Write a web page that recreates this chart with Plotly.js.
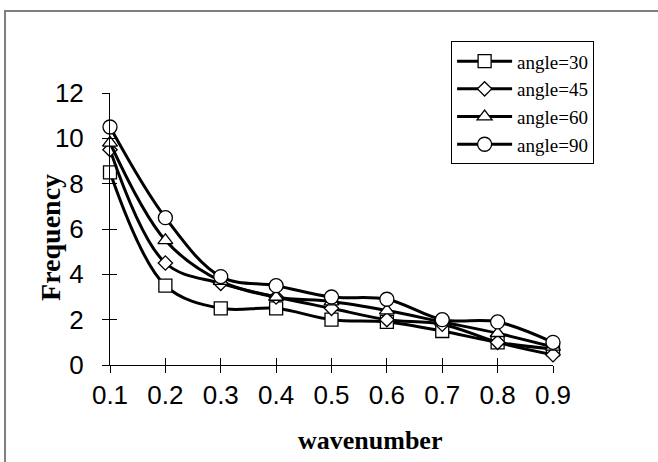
<!DOCTYPE html>
<html>
<head>
<meta charset="utf-8">
<script src="https://cdn.plot.ly/plotly-3.0.1.min.js"></script>
<style>
  html, body { margin: 0; padding: 0; background: #fff; overflow: hidden; }
  #chart { position: absolute; left: 0; top: 0; width: 658px; height: 462px; }
  #frame {
    position: absolute; left: 4px; top: 10px; width: 700px; height: 500px;
    border-left: 2px solid #7f7f7f; border-top: 2px solid #7f7f7f;
    pointer-events: none; z-index: 5;
  }
</style>
</head>
<body>
<div id="chart"></div>
<div id="frame"></div>
<script>
// wavenumber samples shared by every series
const wavenumber = [0.1, 0.2, 0.3, 0.4, 0.5, 0.6, 0.7, 0.8, 0.9];

// frequency for each incidence angle
const angle30 = [8.5, 3.5, 2.5, 2.5, 2.0, 1.9, 1.5, 1.0, 0.7];
const angle45 = [9.5, 4.5, 3.6, 3.0, 2.5, 2.0, 1.8, 1.0, 0.45];
const angle60 = [9.8, 5.5, 3.7, 3.0, 2.8, 2.4, 1.9, 1.4, 0.8];
const angle90 = [10.5, 6.5, 3.9, 3.5, 3.0, 2.9, 2.0, 1.9, 1.0];

const seriesNames = ['angle=30', 'angle=45', 'angle=60', 'angle=90'];
const seriesValues = [angle30, angle45, angle60, angle90];
const seriesSymbols = ['square', 'diamond', 'triangle-up', 'circle'];
const symbolSizes = [13, 11, 13, 14];

const xTicks = [0.1, 0.2, 0.3, 0.4, 0.5, 0.6, 0.7, 0.8, 0.9];
const xTickText = ['0.1', '0.2', '0.3', '0.4', '0.5', '0.6', '0.7', '0.8', '0.9'];
const yTicks = [0, 2, 4, 6, 8, 10, 12];

const traces = seriesNames.map((name, i) => ({
  type: 'scatter',
  mode: 'lines+markers',
  name: name,
  x: wavenumber,
  y: seriesValues[i],
  cliponaxis: false,
  line: { color: '#000', width: 3, shape: 'spline', smoothing: 1 },
  marker: {
    symbol: seriesSymbols[i],
    size: symbolSizes[i],
    color: '#fff',
    line: { color: '#000', width: 1.3 }
  }
}));

// companion axes carry the inner half of the crossing tick marks
traces.push({
  type: 'scatter', mode: 'markers', x: [null], y: [null],
  xaxis: 'x2', yaxis: 'y2', showlegend: false, hoverinfo: 'skip'
});

const serif = 'Liberation Serif, Times New Roman, serif';
const sans = 'Liberation Sans, Arial, sans-serif';

const axisBase = {
  showgrid: false, zeroline: false,
  showline: true, linecolor: '#000', linewidth: 1,
  ticks: 'outside', ticklen: 7, tickwidth: 1, tickcolor: '#000',
  tickfont: { family: sans, size: 26, color: '#000' }
};

const layout = {
  width: 658, height: 462,
  margin: { l: 110, r: 105, t: 93, b: 97 },
  paper_bgcolor: '#fff', plot_bgcolor: '#fff',
  showlegend: true,
  xaxis: Object.assign({}, axisBase, {
    range: [0.1, 0.9], tickvals: xTicks, ticktext: xTickText,
    ticklabelstandoff: 0
  }),
  yaxis: Object.assign({}, axisBase, {
    range: [0, 12], tickvals: yTicks,
    ticklabelstandoff: 13
  }),
  xaxis2: {
    overlaying: 'x', anchor: 'y', side: 'bottom', range: [0.1, 0.9],
    tickvals: xTicks, showticklabels: false, showgrid: false, zeroline: false,
    showline: false, ticks: 'inside', ticklen: 7, tickwidth: 1, tickcolor: '#000'
  },
  yaxis2: {
    overlaying: 'y', anchor: 'x', side: 'left', range: [0, 12],
    tickvals: yTicks, showticklabels: false, showgrid: false, zeroline: false,
    showline: false, ticks: 'inside', ticklen: 7, tickwidth: 1, tickcolor: '#000'
  },
  legend: {
    x: 0.77, y: 1.19, xanchor: 'left', yanchor: 'top',
    bgcolor: '#fff', bordercolor: '#000', borderwidth: 1,
    font: { family: serif, size: 19, color: '#000' },
    itemwidth: 55,
    tracegroupgap: 0
  },
  annotations: [
    {
      text: '<b>wavenumber</b>', xref: 'paper', yref: 'paper',
      x: 0.587, y: -0.276, xanchor: 'center', yanchor: 'middle', showarrow: false,
      font: { family: serif, size: 26, color: '#000' }
    },
    {
      text: '<b>Frequency</b>', xref: 'paper', yref: 'paper',
      x: -0.136, y: 0.47, xanchor: 'center', yanchor: 'middle', showarrow: false,
      textangle: -90,
      font: { family: serif, size: 28, color: '#000' }
    }
  ]
};

Plotly.newPlot('chart', traces, layout, { displayModeBar: false, staticPlot: true });
</script>
</body>
</html>
